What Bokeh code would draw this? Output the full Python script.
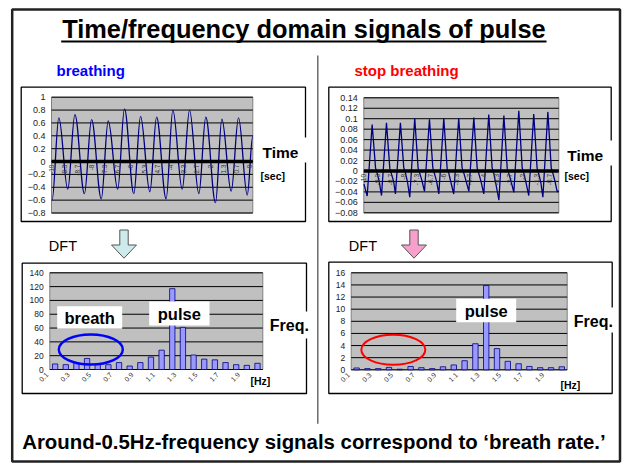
import numpy as np
from bokeh.plotting import figure
from bokeh.models import Range1d
from bokeh.core.properties import value
from bokeh.embed import file_html
from bokeh.resources import INLINE

# ---------------- data ----------------
# time-domain signal, breathing (seconds, amplitude at peaks/troughs)
breath_t = [-9.97, -9.63, -9.18, -8.82, -8.34, -7.98, -7.49, -7.14, -6.66, -6.32,
            -5.85, -5.51, -5.04, -4.70, -4.22, -3.88, -3.41, -3.04, -2.57, -2.22,
            -1.73, -1.41, -0.94, -0.57, -0.13, 0.15]
breath_v = [-0.60, 0.68, -0.43, 0.73, -0.50, 0.65, -0.58, 0.63, -0.43, 0.82,
            -0.50, 0.70, -0.47, 0.69, -0.58, 0.80, -0.43, 0.80, -0.50, 0.69,
            -0.64, 0.66, -0.46, 0.68, -0.52, 0.40]

# time-domain signal, stop breathing
stop_t = [-9.99,
          -9.83, -9.58, -9.41, -9.33, -9.22,
          -9.11, -8.86, -8.69, -8.61, -8.50,
          -8.41, -8.16, -7.99, -7.91, -7.80,
          -7.69, -7.44, -7.27, -7.19, -7.08,
          -6.95, -6.70, -6.53, -6.45, -6.34,
          -6.23, -5.98, -5.81, -5.73, -5.62,
          -5.48, -5.23, -5.06, -4.98, -4.87,
          -4.72, -4.47, -4.30, -4.22, -4.11,
          -3.97, -3.72, -3.55, -3.47, -3.36,
          -3.21, -2.96, -2.79, -2.71, -2.60,
          -2.46, -2.21, -2.04, -1.96, -1.85,
          -1.71, -1.46, -1.29, -1.21, -1.10,
          -1.00, -0.75, -0.58, -0.50, -0.39,
          -0.28, -0.20]
stop_v = [-0.025,
          -0.048, 0.089, 0.006, -0.004, -0.021,
          -0.047, 0.092, 0.004, -0.006, -0.020,
          -0.044, 0.092, 0.006, -0.003, -0.022,
          -0.050, 0.101, 0.005, -0.004, -0.018,
          -0.039, 0.099, 0.006, -0.005, -0.020,
          -0.044, 0.101, 0.004, -0.004, -0.022,
          -0.044, 0.101, 0.006, -0.003, -0.018,
          -0.039, 0.102, 0.005, -0.005, -0.020,
          -0.044, 0.108, 0.006, -0.004, -0.025,
          -0.056, 0.106, 0.004, -0.005, -0.020,
          -0.041, 0.115, 0.006, -0.004, -0.022,
          -0.047, 0.109, 0.005, -0.005, -0.023,
          -0.050, 0.113, 0.006, -0.004, -0.020,
          -0.040, -0.038]

time_ticks = [-10, -9.33, -8.67, -8, -7.33, -6.67, -6, -5.33, -4.67, -4,
              -3.33, -2.67, -2, -1.33, -0.67, 0]
time_labels = ["-10", "-9.3", "-8.7", "-8", "-7.3", "-6.7", "-6", "-5.3", "-4.7", "-4",
               "-3.3", "-2.7", "-2", "-1.3", "-0.7", "0"]

breath_yticks = [1.0, 0.8, 0.6, 0.4, 0.2, 0.0, -0.2, -0.4, -0.6, -0.8]
breath_ylabels = ["1", "0.8", "0.6", "0.4", "0.2", "0", "\u22120.2", "\u22120.4", "\u22120.6", "\u22120.8"]
stop_yticks = [0.14, 0.12, 0.10, 0.08, 0.06, 0.04, 0.02, 0.0, -0.02, -0.04, -0.06, -0.08]
stop_ylabels = ["0.14", "0.12", "0.1", "0.08", "0.06", "0.04", "0.02", "0",
                "\u22120.02", "\u22120.04", "\u22120.06", "\u22120.08"]

# frequency domain (DFT)
freqs = [0.1, 0.2, 0.3, 0.4, 0.5, 0.6, 0.7, 0.8, 0.9, 1.0,
         1.1, 1.2, 1.3, 1.4, 1.5, 1.6, 1.7, 1.8, 1.9, 2.0]
breath_dft = [8, 7, 10, 16, 8, 7, 10, 5, 10, 18, 28, 117, 61, 21, 15, 14, 10, 7, 6, 9]
stop_dft = [0.3, 0.2, 0.2, 0.4, 0.1, 0.55, 0.35, 0.2, 0.5, 0.8,
            1.5, 4.3, 13.9, 3.5, 1.4, 1.0, 0.55, 0.35, 0.35, 0.5]
freq_label_pos = [0.1, 0.3, 0.5, 0.7, 0.9, 1.1, 1.3, 1.5, 1.7, 1.9]
freq_labels = ["0.1", "0.3", "0.5", "0.7", "0.9", "1.1", "1.3", "1.5", "1.7", "1.9"]
breath_dft_yticks = [140, 120, 100, 80, 60, 40, 20, 0]
stop_dft_yticks = [16, 14, 12, 10, 8, 6, 4, 2, 0]

# ---------------- canvas ----------------
W, H = 627, 464
X0, X1 = 0.0, 627.0      # page-pixel space shown by the frame
YB, YT = 464.0, 0.0      # bottom, top (y grows downward)

FONT = value("Liberation Sans")

p = figure(width=W, height=H, x_range=Range1d(X0, X1), y_range=Range1d(YB, YT),
           output_backend="svg", toolbar_location=None,
           x_axis_location=None, y_axis_location=None,
           min_border=0, outline_line_color=None, background_fill_color="white")
p.grid.visible = False


def chart_ranges(pl, pr, dl, dr, pb, pt, vb, vt):
    sx = (dr - dl) / (pr - pl)
    xr = Range1d(dl + (X0 - pl) * sx, dl + (X1 - pl) * sx)
    sy = (vt - vb) / (pt - pb)
    yr = Range1d(vb + (YB - pb) * sy, vb + (YT - pb) * sy)
    return xr, yr


charts = {
    "tl": dict(pl=51.0, pr=252.3, dl=-10.0, dr=0.15, pb=212.5, pt=96.7, vb=-0.8, vt=1.0),
    "tr": dict(pl=363.3, pr=558.3, dl=-10.0, dr=-0.2, pb=212.3, pt=97.3, vb=-0.08, vt=0.14),
    "bl": dict(pl=49.3, pr=262.3, dl=0.05, dr=2.05, pb=369.0, pt=272.3, vb=0.0, vt=140.0),
    "br": dict(pl=350.7, pr=566.7, dl=0.05, dr=2.05, pb=369.3, pt=272.3, vb=0.0, vt=16.0),
}
exr, eyr = {}, {}
for k, c in charts.items():
    xr, yr = chart_ranges(**c)
    exr[k] = xr
    eyr[k] = yr
p.extra_x_ranges = exr
p.extra_y_ranges = eyr

# slide border, divider
p.quad(left=[11.7], right=[619.5], top=[9.0], bottom=[461.0], fill_color=None,
       line_color="#222222", line_width=2.5)
p.segment(x0=[317.3], y0=[55.0], x1=[317.3], y1=[423.3], line_color="#555555", line_width=1.3)

# title
p.text(x=[303.4], y=[28.2], text=["Time/frequency domain signals of pulse"],
       text_font=FONT, text_font_style="bold", text_font_size="25.4px",
       text_align="center", text_baseline="middle", text_color="black")
p.segment(x0=[60.7], y0=[40.9], x1=[546.0], y1=[40.9], line_color="black", line_width=2)

p.text(x=[56.0], y=[70.0], text=["breathing"], text_font=FONT, text_font_style="bold",
       text_font_size="15px", text_color="#0000FF", text_baseline="middle")
p.text(x=[354.0], y=[70.0], text=["stop breathing"], text_font=FONT, text_font_style="bold",
       text_font_size="15px", text_color="#FF0000", text_baseline="middle")

# chart boxes
for (l, r, t, b) in [(20.7, 305.0, 86.7, 221.0), (328.3, 610.7, 86.7, 221.0),
                     (21.7, 306.0, 262.7, 393.0), (328.3, 611.7, 261.7, 393.0)]:
    p.quad(left=[l], right=[r], top=[t], bottom=[b], fill_color="white",
           line_color="black", line_width=1.3)

GRAY = "#C0C0C0"


def plot_area(name, yticks):
    c = charts[name]
    p.quad(left=[c["dl"]], right=[c["dr"]], bottom=[c["vb"]], top=[c["vt"]],
           fill_color=GRAY, line_color="#808080", line_width=1,
           x_range_name=name, y_range_name=name)
    n = len(yticks)
    p.segment(x0=[c["dl"]] * n, x1=[c["dr"]] * n, y0=yticks, y1=yticks,
              line_color="black", line_width=1, x_range_name=name, y_range_name=name)


def ylabels(name, yticks, labels, size):
    c = charts[name]
    p.text(x=[c["dl"]] * len(yticks), y=yticks, text=labels, x_offset=-6,
           text_align="right", text_baseline="middle", text_font=FONT,
           text_font_size=size, text_color="#222222",
           x_range_name=name, y_range_name=name)


# ---- top-left: breathing time signal
plot_area("tl", breath_yticks)
bt = np.array(breath_t)
bv = np.array(breath_v)
dx = bt[1:] - bt[:-1]
kk = 0.36
p.bezier(x0=bt[:-1], y0=bv[:-1], x1=bt[1:], y1=bv[1:],
         cx0=bt[:-1] + kk * dx, cy0=bv[:-1], cx1=bt[1:] - kk * dx, cy1=bv[1:],
         line_color="#000080", line_width=1.3, x_range_name="tl", y_range_name="tl")
c = charts["tl"]
p.segment(x0=[c["dl"]], x1=[c["dr"]], y0=[0], y1=[0], line_color="black", line_width=3.5,
          x_range_name="tl", y_range_name="tl")
ylabels("tl", breath_yticks, breath_ylabels, "9px")
p.text(x=time_ticks, y=[0] * len(time_ticks), text=time_labels, angle=np.pi / 2,
       y_offset=3, text_align="right", text_baseline="middle", text_font=FONT,
       text_font_size="6.5px", text_color="#333333", x_range_name="tl", y_range_name="tl")

# ---- top-right: stop breathing time signal
plot_area("tr", stop_yticks)
p.line(x=stop_t, y=stop_v, line_color="#000080", line_width=1.3,
       x_range_name="tr", y_range_name="tr")
c = charts["tr"]
p.segment(x0=[c["dl"]], x1=[c["dr"]], y0=[0], y1=[0], line_color="black", line_width=3.5,
          x_range_name="tr", y_range_name="tr")
ylabels("tr", stop_yticks, stop_ylabels, "9px")
p.text(x=time_ticks[:15], y=[0] * 15, text=time_labels[:15], angle=np.pi / 2,
       y_offset=3, text_align="right", text_baseline="middle", text_font=FONT,
       text_font_size="6.5px", text_color="#333333", x_range_name="tr", y_range_name="tr")

# ---- bottom charts: DFT bars
for name, amps, yt in [("bl", breath_dft, breath_dft_yticks), ("br", stop_dft, stop_dft_yticks)]:
    plot_area(name, yt)
    p.vbar(x=freqs, top=amps, bottom=0, width=0.05, fill_color="#9999FF",
           line_color="#000080", line_width=0.8, x_range_name=name, y_range_name=name)
    ylabels(name, yt, [str(v) for v in yt], "8.5px")
    p.text(x=freq_label_pos, y=[0] * len(freq_label_pos), text=freq_labels,
           angle=np.pi / 4, x_offset=-8, y_offset=4, text_align="right",
           text_baseline="middle", text_font=FONT, text_font_size="7px",
           text_color="#333333", x_range_name=name, y_range_name=name)

# white label backgrounds
for (l, r, t, b) in [(258.0, 310.0, 137.0, 162.0), (562.0, 615.0, 140.0, 165.0),
                     (265.0, 312.0, 311.0, 338.0), (569.0, 617.5, 307.0, 332.0),
                     (56.7, 121.7, 305.7, 328.3), (148.7, 209.0, 301.0, 325.0),
                     (455.7, 515.7, 298.3, 321.7)]:
    p.quad(left=[l], right=[r], top=[t], bottom=[b], fill_color="white", line_color=None)

# axis names
for x, y, s, size in [(262.0, 151.7, "Time", "15.5px"), (566.7, 154.7, "Time", "15.5px"),
                      (269.3, 325.0, "Freq.", "16px"), (573.3, 321.0, "Freq.", "16px")]:
    p.text(x=[x], y=[y], text=[s], text_font=FONT, text_font_style="bold",
           text_font_size=size, text_baseline="middle", text_color="black")
for x, y, s in [(260.0, 175.0, "[sec]"), (564.0, 175.0, "[sec]"),
                (250.0, 380.7, "[Hz]"), (560.0, 384.0, "[Hz]")]:
    p.text(x=[x], y=[y], text=[s], text_font=FONT, text_font_style="bold",
           text_font_size="10.5px", text_baseline="middle", text_color="black")

# annotations in charts
for x, y, s in [(89.2, 317.7, "breath"), (178.8, 313.3, "pulse"), (485.7, 310.0, "pulse")]:
    p.text(x=[x], y=[y], text=[s], text_font=FONT, text_font_style="bold",
           text_font_size="16.5px", text_align="center", text_baseline="middle",
           text_color="black")

p.ellipse(x=[0.435], y=[29.0], width=64, height=30, width_units="screen",
          height_units="screen", fill_color=None, line_color="#0000FF", line_width=2.4,
          x_range_name="bl", y_range_name="bl")
p.ellipse(x=[0.44], y=[3.3], width=64, height=30, width_units="screen",
          height_units="screen", fill_color=None, line_color="#FF0000", line_width=2,
          x_range_name="br", y_range_name="br")

# DFT labels and arrows
for x in [48.3, 348.3]:
    p.text(x=[x], y=[245.0], text=["DFT"], text_font=FONT, text_font_size="14.5px",
           text_baseline="middle", text_color="black")


def down_arrow(cx, color):
    xs = [cx - 4.2, cx + 4.2, cx + 4.2, cx + 12.5, cx, cx - 12.5, cx - 4.2]
    ys = [229.5, 229.5, 244.5, 244.5, 257.7, 244.5, 244.5]
    p.patch(x=xs, y=ys, fill_color=color, line_color="#555555", line_width=1)


down_arrow(123.5, "#CDEBEB")
down_arrow(413.5, "#F8A0CC")

# bottom statement
p.text(x=[21.7], y=[441.7], text=["Around-0.5Hz-frequency signals correspond to \u2018breath rate.\u2019"],
       text_font=FONT, text_font_style="bold", text_font_size="20.4px",
       text_baseline="middle", text_color="black")

open("out.html", "w").write(file_html(p, INLINE))
